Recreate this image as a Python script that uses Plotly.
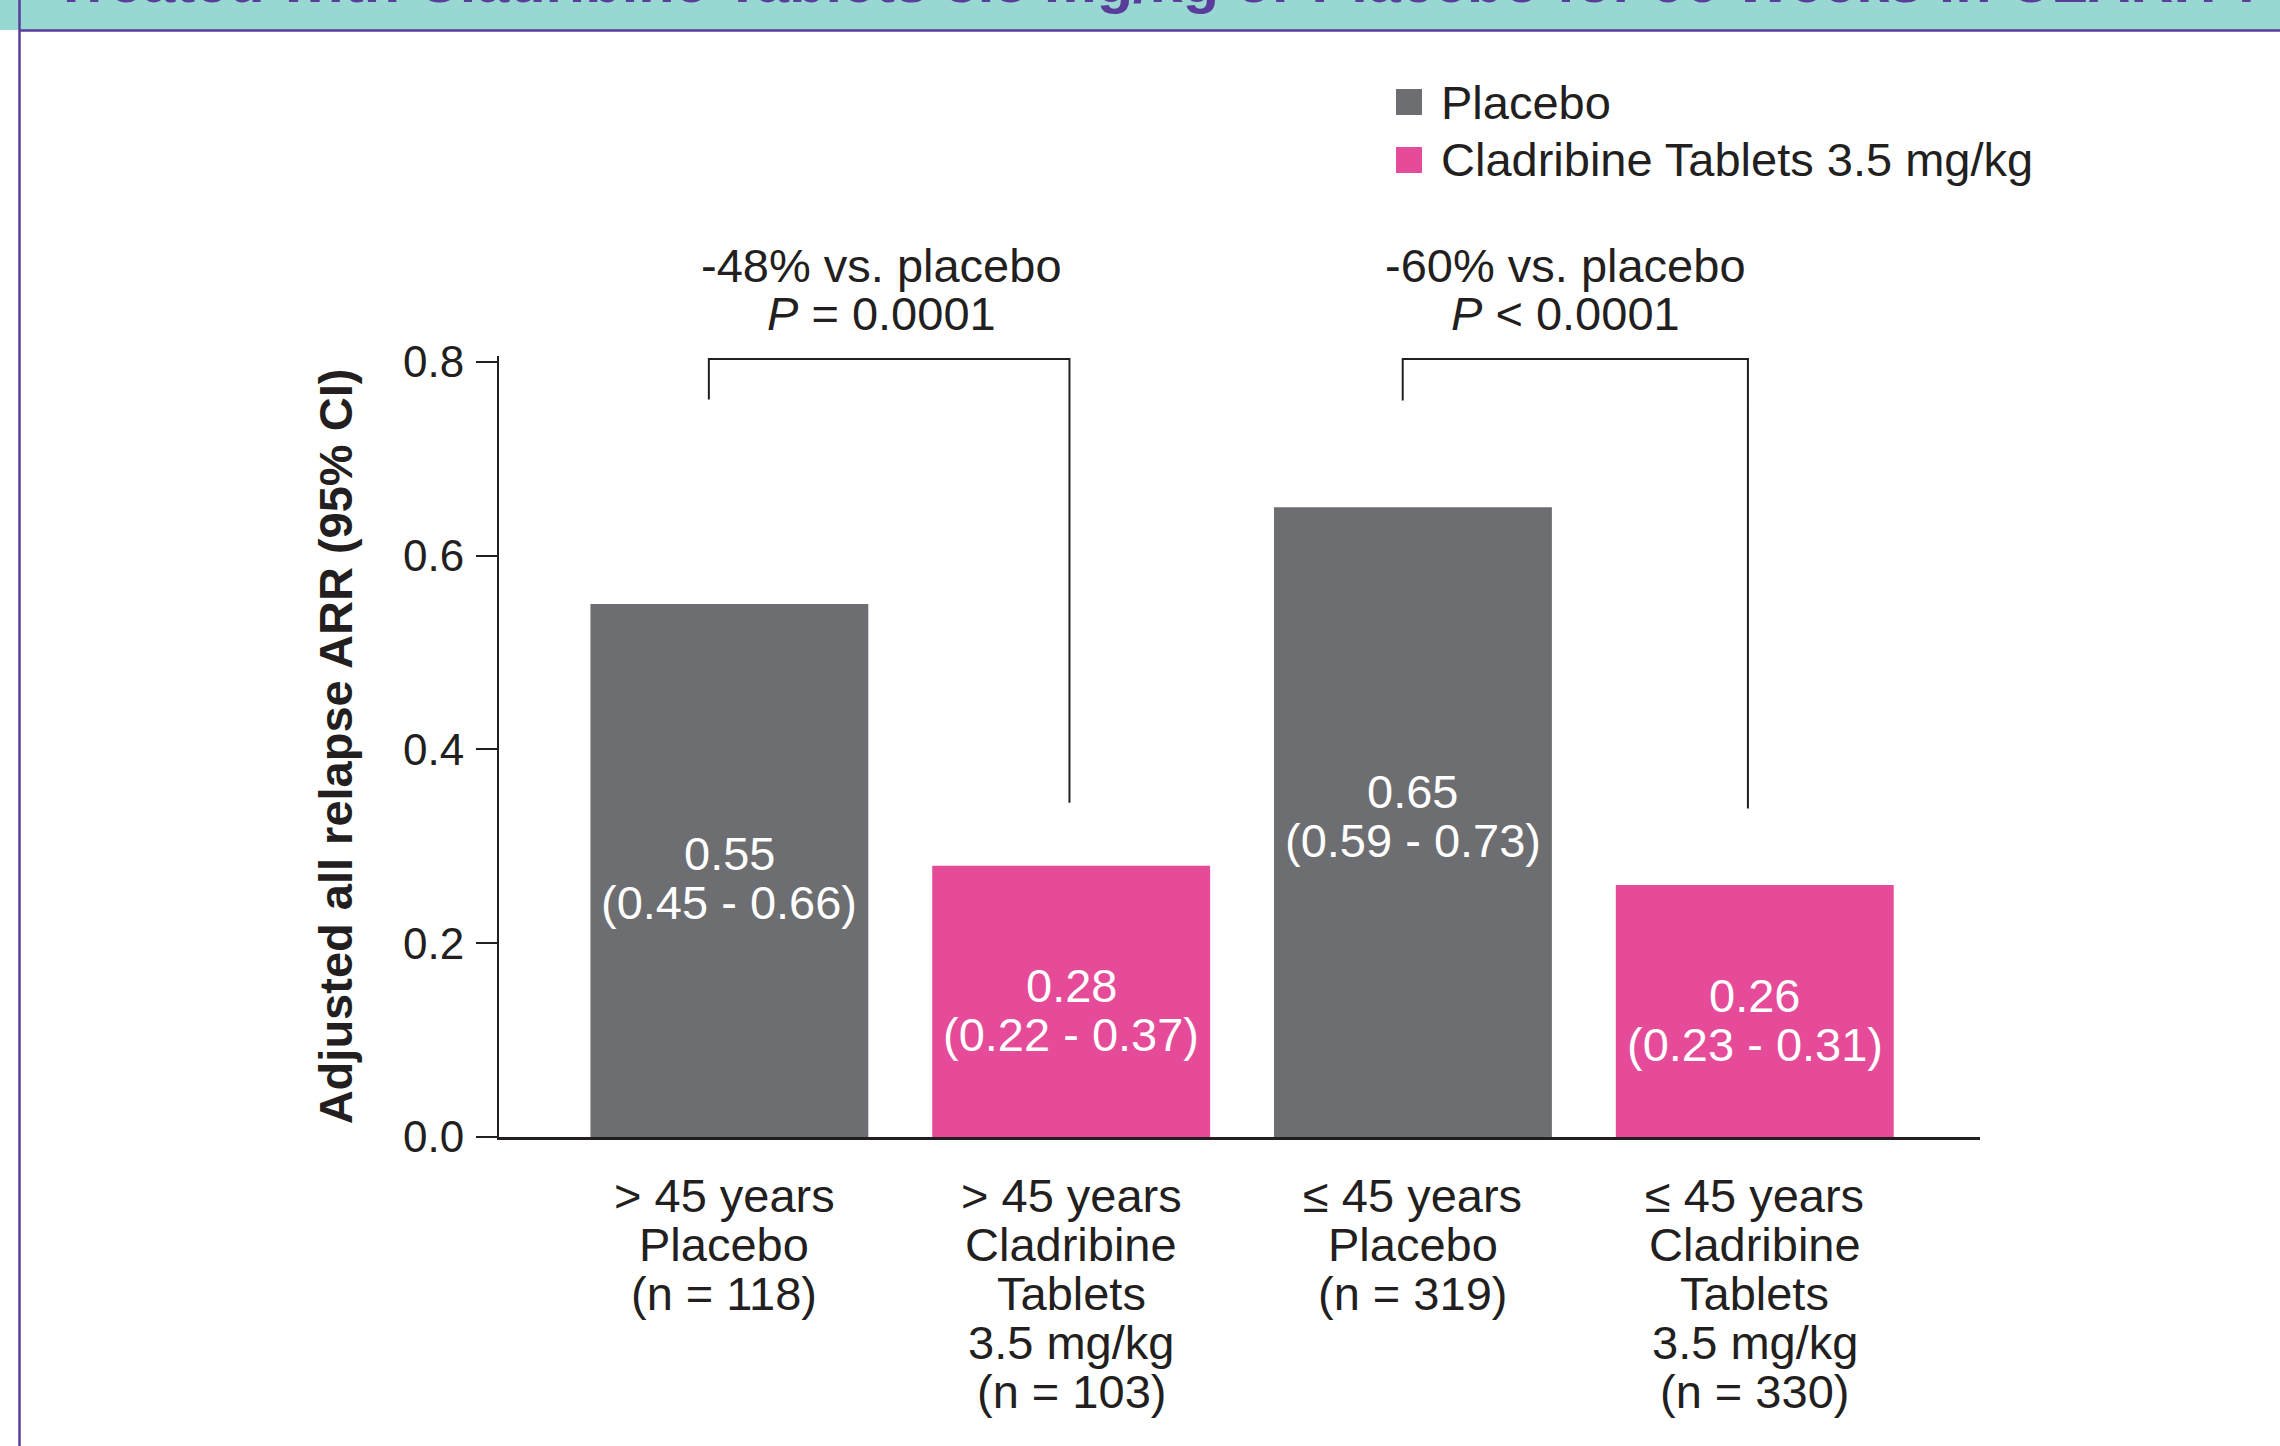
import plotly.graph_objects as go

# ---------------- data ----------------
groups = ["Placebo", "Cladribine Tablets 3.5 mg/kg"]
group_colors = ["#6D6E71", "#E54B98"]
bar_group = [0, 1, 0, 1]                     # which treatment each bar belongs to
arr_values = [0.55, 0.28, 0.65, 0.26]        # adjusted all relapse ARR
ci_low = [0.45, 0.22, 0.59, 0.23]
ci_high = [0.66, 0.37, 0.73, 0.31]
tick_lines = [
    ["&gt; 45 years", "Placebo", "(n = 118)"],
    ["&gt; 45 years", "Cladribine", "Tablets", "3.5 mg/kg", "(n = 103)"],
    ["≤ 45 years", "Placebo", "(n = 319)"],
    ["≤ 45 years", "Cladribine", "Tablets", "3.5 mg/kg", "(n = 330)"],
]
comparisons = [(0, 1), (2, 3)]
comp_text = ["-48% vs. placebo", "-60% vs. placebo"]
comp_p = ["<i>P</i> = 0.0001", "<i>P</i> &lt; 0.0001"]
y_ticks = [0.0, 0.2, 0.4, 0.6, 0.8]
y_title = "Adjusted all relapse ARR (95% CI)"
header_title = "Treated with Cladribine Tablets 3.5 mg/kg or Placebo for 96 Weeks in CLARITY"

# ---------------- layout constants ----------------
W, H = 2280, 1446
ML, MR, MT, MB = 499, 300, 356, 309
PW, PH = W - ML - MR, H - MT - MB
FONT = "Liberation Sans, Arial, sans-serif"
TXT = "#231F20"
PURPLE = "#5A3D9B"
TEAL = "#98D7D2"
FS = 47
LINE = 49
X_RANGE = [-0.674, 3.659]
Y_RANGE = [0, 0.806]
BAR_W = 0.813

def px_x(p):  # pixel -> paper x
    return (p - ML) / PW

def px_y(p):  # pixel -> paper y
    return (H - MB - p) / PH

xs = list(range(len(arr_values)))
fig = go.Figure()
for g, name in enumerate(groups):
    idx = [i for i in xs if bar_group[i] == g]
    fig.add_trace(go.Bar(
        x=[xs[i] for i in idx], y=[arr_values[i] for i in idx],
        name=name, marker=dict(color=group_colors[g], line=dict(width=0)),
        width=BAR_W, showlegend=False, hoverinfo="skip"))

ann = []
shapes = []

# value labels inside bars
label_shift = [17, 16, 31, 16]
for i in xs:
    lines = [f"{arr_values[i]:.2f}", f"({ci_low[i]:.2f} - {ci_high[i]:.2f})"]
    for k, t in enumerate(lines):
        ann.append(dict(x=xs[i], y=arr_values[i] / 2, xref="x", yref="y", text=t,
                        showarrow=False, xanchor="center", yanchor="middle",
                        yshift=label_shift[i] - k * LINE,
                        font=dict(family=FONT, size=FS, color="white")))

# category labels under axis
label_xshift = [-5, 0, 0, 0]
for i in xs:
    for k, t in enumerate(tick_lines[i]):
        ann.append(dict(x=xs[i], y=0, xref="x", yref="y", text=t, showarrow=False,
                        xanchor="center", yanchor="middle", yshift=-58 - k * LINE,
                        xshift=label_xshift[i],
                        font=dict(family=FONT, size=FS, color=TXT)))

# comparison brackets
br_left = [-0.06, 1.97]
br_right = [0.995, 2.98]
br_top = 0.803
br_left_bottom = [0.761, 0.760]
br_right_bottom = [0.345, 0.339]
txt_x = [0.445, 2.445]
for c, (a, b) in enumerate(comparisons):
    path = (f"M {br_left[c]},{br_left_bottom[c]} L {br_left[c]},{br_top} "
            f"L {br_right[c]},{br_top} L {br_right[c]},{br_right_bottom[c]}")
    shapes.append(dict(type="path", xref="x", yref="y", path=path,
                       line=dict(color=TXT, width=2)))
    for k, t in enumerate([comp_text[c], comp_p[c]]):
        ann.append(dict(x=txt_x[c], y=0.8, xref="x", yref="y", text=t, showarrow=False,
                        xanchor="center", yanchor="middle", yshift=96 - k * 48,
                        font=dict(family=FONT, size=FS, color=TXT)))

# manual legend
leg_y = [102, 160]
for g, name in enumerate(groups):
    shapes.append(dict(type="rect", xref="paper", yref="paper",
                       x0=px_x(1396), x1=px_x(1422),
                       y0=px_y(leg_y[g] + 13), y1=px_y(leg_y[g] - 13),
                       fillcolor=group_colors[g], line=dict(width=0)))
    ann.append(dict(x=px_x(1439), y=px_y(leg_y[g]), xref="paper", yref="paper",
                    text=name, showarrow=False, xanchor="left", yanchor="middle",
                    font=dict(family=FONT, size=FS, color=TXT)))

# header band, border and cut title
shapes.append(dict(type="rect", xref="paper", yref="paper", x0=px_x(0), x1=px_x(W),
                   y0=px_y(30), y1=px_y(-5), fillcolor=TEAL, line=dict(width=0), layer="below"))
shapes.append(dict(type="line", xref="paper", yref="paper", x0=px_x(19), x1=px_x(W),
                   y0=px_y(30.5), y1=px_y(30.5), line=dict(color=PURPLE, width=2.5)))
shapes.append(dict(type="line", xref="paper", yref="paper", x0=px_x(19.5), x1=px_x(19.5),
                   y0=px_y(-5), y1=px_y(H + 5), line=dict(color=PURPLE, width=2.5)))
ann.append(dict(x=px_x(51), y=px_y(17), xref="paper", yref="paper", text=f"<b>{header_title}</b>",
                showarrow=False, xanchor="left", yanchor="bottom",
                font=dict(family=FONT, size=59.5, color=PURPLE)))

fig.update_layout(
    width=W, height=H,
    margin=dict(l=ML, r=MR, t=MT, b=MB, pad=0),
    paper_bgcolor="white", plot_bgcolor="white",
    barmode="overlay",
    font=dict(family=FONT, size=FS, color=TXT),
    xaxis=dict(range=X_RANGE, tickvals=xs, showticklabels=False, ticks="",
               showline=True, linecolor=TXT, linewidth=3, showgrid=False,
               zeroline=False, fixedrange=True),
    yaxis=dict(range=Y_RANGE, tickvals=y_ticks, tickformat=".1f", ticks="outside",
               ticklen=21, tickwidth=2, tickcolor=TXT, showline=True, linecolor=TXT,
               linewidth=2, showgrid=False, zeroline=False, ticklabelstandoff=3,
               tickfont=dict(family=FONT, size=44, color=TXT),
               title=dict(text=f"<b>{y_title}</b>", standoff=36,
                          font=dict(family=FONT, size=47, color=TXT))),
    annotations=ann, shapes=shapes,
)

fig.write_html("out.html")
